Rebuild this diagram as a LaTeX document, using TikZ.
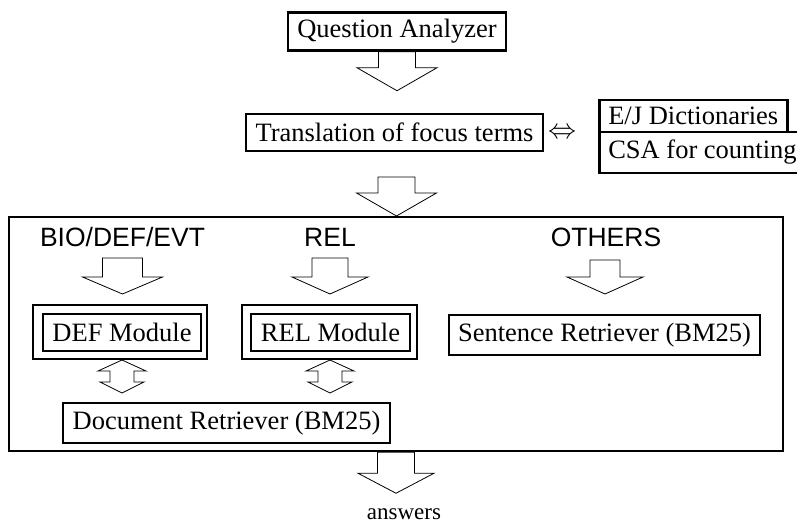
\documentclass[tikz,border=0pt]{standalone}
\usepackage{graphicx}
\usepackage{fontspec}
\setmainfont{Liberation Serif}
\setsansfont{Liberation Sans}
\usetikzlibrary{arrows}

% hollow block arrow pointing down: start, shaft half, shaft length, head half, head length
\newcommand{\hollowdown}[5]{%
	\draw[hollow] (#1) ++(-#2,0) -- ++(0,#3) -- ++(#2-#4,0) -- ++(#4,#5) -- ++(#4,-#5) -- ++(#2-#4,0) -- ++(0,-#3) -- cycle;
}
% hollow block arrow with two heads, starting at the upper tip
\newcommand{\hollowboth}[1]{%
	\draw[hollow] (#1) -- ++(24,11) -- ++(-12,0) -- ++(0,11) -- ++(10,0) -- ++(-22,11) -- ++(-22,-11) -- ++(10,0) -- ++(0,-11) -- ++(-12,0) -- cycle;
}

\begin{document}
\begin{tikzpicture}[x=1pt,y=-1pt]
\tikzstyle{every node} = [font = \fontsize{26.5}{30}\selectfont, inner sep=0pt]
\tikzstyle{module} = [draw, line width=2.5pt, minimum height=38pt]
\tikzstyle{category} = [font = \sffamily\fontsize{26.5}{30}\selectfont, anchor=base]
\tikzstyle{hollow} = [line width=0.8pt, line join=miter]
	\useasboundingbox (0,0) rectangle (797,526);

	\node [module, minimum width=218pt] (qa) at (397,31.5) {Question Analyzer};
	\node [module, minimum width=297pt, minimum height=37pt] (trans) at (394.5,132.5) {Translation of focus terms};
	\node [font=\normalsize] (iff) at (562,133) {\scalebox{2.8}{$\Leftrightarrow$}};
	\node [module, anchor=west, inner xsep=9pt, minimum height=32pt] (dict) at (598,116) {E/J Dictionaries};
	\node [module, anchor=west, inner xsep=9pt, minimum height=41pt] (csa) at (598,152.5) {CSA for counting};

	\node [draw, line width=2.5pt, minimum width=774pt, minimum height=234pt] (frame) at (396,334) {};
	\node [category] (bio) at (122.5,247) {BIO/DEF/EVT};
	\node [category] (rel) at (330,247) {REL};
	\node [category] (others) at (606,247) {OTHERS};

	\node [module, minimum width=174pt, minimum height=54pt] (defo) at (120,332) {};
	\node [module, minimum width=158pt, minimum height=37pt] (def) at (122,332.5) {DEF Module};
	\node [module, minimum width=175pt, minimum height=54pt] (relo) at (329.5,332) {};
	\node [module, minimum width=159pt, minimum height=37pt] (relm) at (330.5,332.5) {REL Module};
	\node [module, line width=2pt, minimum width=311pt, minimum height=40pt] (sent) at (604.5,335) {Sentence Retriever (BM25)};
	\node [module, minimum width=327pt, minimum height=40pt] (doc) at (226.5,423) {Document Retriever (BM25)};
	\node [anchor=base, font=\fontsize{23}{26}\selectfont] (ans) at (404,519) {answers};

	\coordinate (a2) at (396.5,177);
	\coordinate (a3) at (122.5,258);
	\coordinate (a4) at (330,258);
	\coordinate (a5) at (605,260);
	\coordinate (d1) at (122,360);
	\coordinate (d2) at (330,360);

	\hollowdown{qa.south}{18.5}{16}{40}{23}
	\hollowdown{a2}{18.5}{16}{40}{23}
	\hollowdown{a3}{20}{19}{40}{17}
	\hollowdown{a4}{18}{19}{38}{17}
	\hollowdown{a5}{15}{17}{38}{17}
	\hollowdown{frame.south}{18.5}{21}{38}{20}
	\hollowboth{d1}
	\hollowboth{d2}
\end{tikzpicture}
\end{document}
